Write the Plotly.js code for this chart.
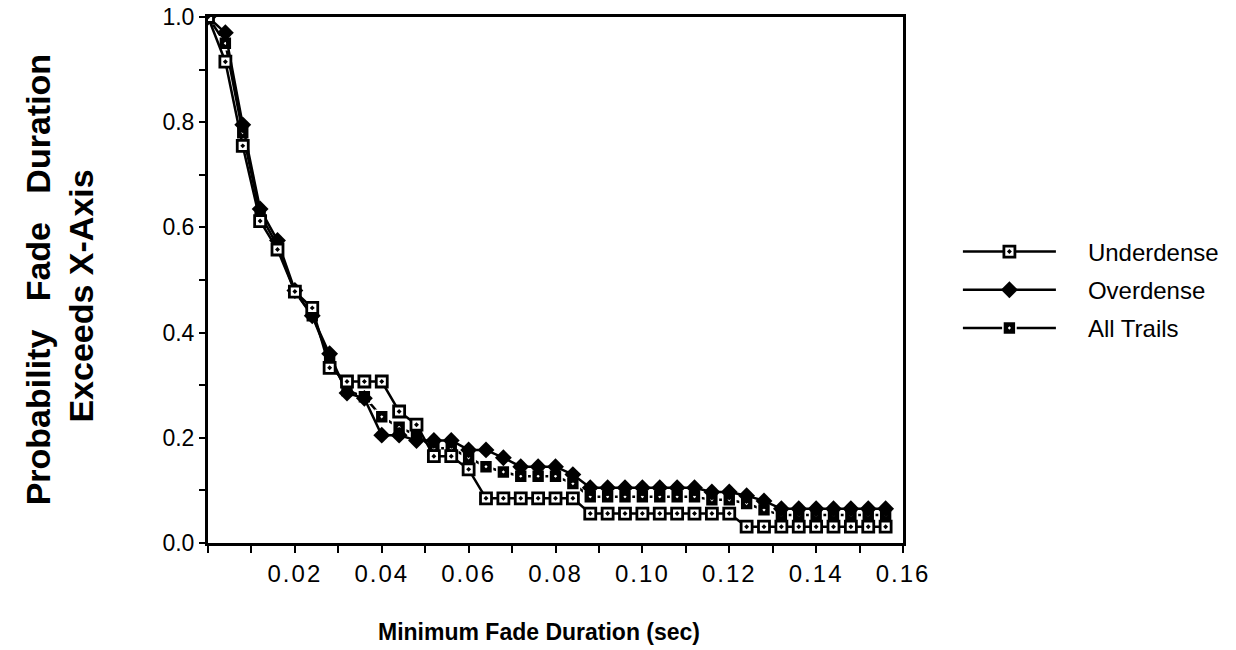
<!DOCTYPE html>
<html>
<head>
<meta charset="utf-8">
<script src="https://cdn.plot.ly/plotly-3.0.1.min.js"></script>
<style>
  html, body { margin: 0; padding: 0; background: #fff; }
  #chart { width: 1236px; height: 650px; }
  #chart .xtick text { letter-spacing: 2px; }
</style>
</head>
<body>
<div id="chart"></div>
<script>
// Minimum fade duration (sec)
const duration = [
  0.000, 0.004, 0.008, 0.012, 0.016, 0.020, 0.024, 0.028, 0.032, 0.036,
  0.040, 0.044, 0.048, 0.052, 0.056, 0.060, 0.064, 0.068, 0.072, 0.076,
  0.080, 0.084, 0.088, 0.092, 0.096, 0.100, 0.104, 0.108, 0.112, 0.116,
  0.120, 0.124, 0.128, 0.132, 0.136, 0.140, 0.144, 0.148, 0.152, 0.156
];

// Probability that a fade lasts longer than the given duration
const underdense = [
  1.000, 0.915, 0.755, 0.612, 0.558, 0.478, 0.447, 0.333, 0.307, 0.307,
  0.307, 0.250, 0.225, 0.165, 0.165, 0.140, 0.085, 0.085, 0.085, 0.085,
  0.085, 0.085, 0.056, 0.056, 0.056, 0.056, 0.056, 0.056, 0.056, 0.056,
  0.056, 0.031, 0.031, 0.031, 0.031, 0.031, 0.031, 0.031, 0.031, 0.031
];

const overdense = [
  1.000, 0.970, 0.795, 0.635, 0.575, 0.480, 0.432, 0.360, 0.285, 0.275,
  0.205, 0.205, 0.195, 0.195, 0.195, 0.177, 0.177, 0.162, 0.145, 0.145,
  0.145, 0.130, 0.105, 0.105, 0.105, 0.105, 0.105, 0.105, 0.105, 0.097,
  0.097, 0.090, 0.080, 0.065, 0.065, 0.065, 0.065, 0.065, 0.065, 0.065
];

const allTrails = [
  1.000, 0.950, 0.780, 0.625, 0.565, 0.478, 0.432, 0.350, 0.290, 0.278,
  0.240, 0.220, 0.205, 0.180, 0.180, 0.162, 0.145, 0.135, 0.127, 0.127,
  0.127, 0.113, 0.088, 0.088, 0.088, 0.088, 0.088, 0.088, 0.088, 0.082,
  0.082, 0.075, 0.063, 0.053, 0.053, 0.053, 0.053, 0.053, 0.053, 0.053
];

const xTickVals = [0.02, 0.04, 0.06, 0.08, 0.10, 0.12, 0.14, 0.16];
const xTickText = ['0.02', '0.04', '0.06', '0.08', '0.10', '0.12', '0.14', '0.16'];

const FONT = 'Liberation Sans, Arial, Helvetica, sans-serif';

const traces = [
  {
    name: 'All Trails', x: duration, y: allTrails, mode: 'lines+markers',
    legendgroup: 'c', legendrank: 3,
    line: { color: '#000', width: 2.5 },
    marker: { symbol: 'square-dot', size: 13, color: '#000', line: { color: '#fff', width: 1.6 } }
  },
  {
    name: 'Overdense', x: duration, y: overdense, mode: 'lines+markers',
    legendgroup: 'b', legendrank: 2,
    line: { color: '#000', width: 2.5 },
    marker: { symbol: 'diamond', size: 13, color: '#000', line: { color: '#000', width: 0 } }
  },
  {
    name: 'Underdense', x: duration, y: underdense, mode: 'lines+markers',
    legendgroup: 'a', legendrank: 1,
    line: { color: '#000', width: 2.5 },
    marker: { symbol: 'square-dot', size: 11, color: '#fff', line: { color: '#000', width: 2.8 } }
  }
];

const layout = {
  width: 1236, height: 650,
  margin: { l: 208, r: 331, t: 17, b: 107 },
  paper_bgcolor: '#fff', plot_bgcolor: '#fff',
  font: { family: FONT, color: '#000' },
  showlegend: true,
  legend: {
    x: 1.079, xanchor: 'left', y: 0.481, yanchor: 'middle',
    itemwidth: 120, traceorder: 'grouped', tracegroupgap: 4,
    font: { family: FONT, size: 24, color: '#000' },
    bgcolor: 'rgba(0,0,0,0)'
  },
  xaxis: {
    range: [0, 0.16], showgrid: false, zeroline: false,
    showline: true, mirror: true, linecolor: '#000', linewidth: 3,
    tickmode: 'array', tickvals: xTickVals, ticktext: xTickText,
    ticks: 'outside', ticklen: 7, tickwidth: 2, tickcolor: '#000',
    minor: { dtick: 0.01, tick0: 0, ticks: 'outside', ticklen: 7, tickwidth: 2, tickcolor: '#000', showgrid: false },
    tickfont: { family: FONT, size: 24, color: '#000' },
    fixedrange: true
  },
  yaxis: {
    range: [0, 1.0], showgrid: false, zeroline: false,
    showline: true, mirror: true, linecolor: '#000', linewidth: 3,
    dtick: 0.2, tick0: 0, tickformat: '.1f',
    ticks: 'outside', ticklen: 6, tickwidth: 2, tickcolor: '#000',
    minor: { dtick: 0.1, tick0: 0, ticks: 'outside', ticklen: 6, tickwidth: 2, tickcolor: '#000', showgrid: false },
    tickfont: { family: FONT, size: 23, color: '#000' },
    fixedrange: true
  },
  annotations: [
    {
      text: 'Probability\u00a0\u00a0\u00a0Fade\u00a0\u00a0\u00a0Duration',
      xref: 'paper', yref: 'paper', x: -0.244, y: 0.502,
      xanchor: 'center', yanchor: 'middle', textangle: -90, showarrow: false,
      font: { family: FONT, size: 34, color: '#000', weight: 'bold' }
    },
    {
      text: 'Exceeds X-Axis',
      xref: 'paper', yref: 'paper', x: -0.183, y: 0.47,
      xanchor: 'center', yanchor: 'middle', textangle: -90, showarrow: false,
      font: { family: FONT, size: 34, color: '#000', weight: 'bold' }
    },
    {
      text: 'Minimum Fade Duration (sec)',
      xref: 'paper', yref: 'paper', x: 0.476, y: -0.169,
      xanchor: 'center', yanchor: 'middle', showarrow: false,
      font: { family: FONT, size: 23, color: '#000', weight: 'bold' }
    }
  ]
};

Plotly.newPlot('chart', traces, layout, { displayModeBar: false, staticPlot: true }).then(function (gd) {
  // Stretch the legend keys into long line segments with the symbol centred on them
  gd.querySelectorAll('.legend .traces').forEach(function (item) {
    item.querySelectorAll('.js-line').forEach(function (p) { p.setAttribute('d', 'M5,0h93'); });
    item.querySelectorAll('.legendpoints path.scatterpts').forEach(function (p) {
      p.setAttribute('transform', 'translate(51.5,0)');
    });
  });
});
</script>
</body>
</html>
